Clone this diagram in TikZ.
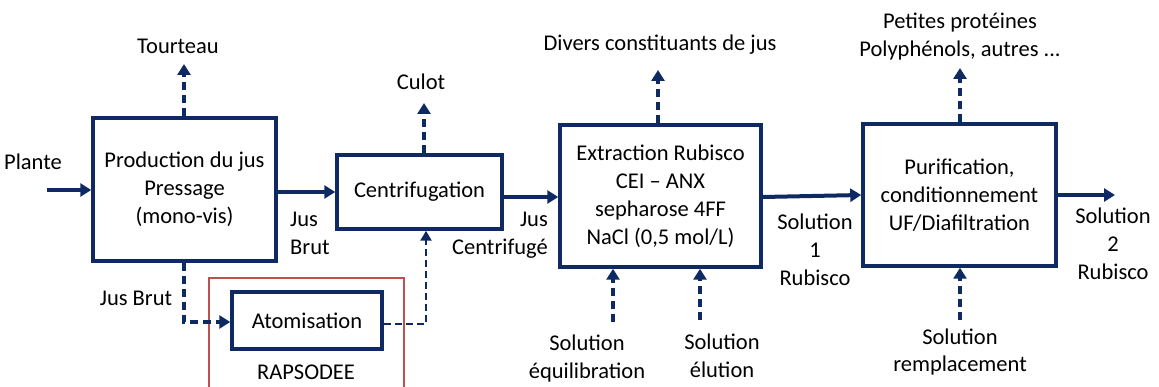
\documentclass[tikz,border=0pt]{standalone}
\usepackage{fontspec}
\setmainfont{Carlito}
\usetikzlibrary{arrows.meta}
\definecolor{navy}{HTML}{0F2A63}
\definecolor{rbox}{HTML}{C0504D}
\begin{document}
\begin{tikzpicture}[x=1pt,y=-1pt,
  box/.style={draw=navy,line width=3.5pt,minimum width=#1,align=center,inner sep=0pt},
  lbl/.style={align=center,inner sep=0pt,font=\fontsize{22.5}{28}\selectfont},
  flow/.style={navy,line width=4pt,-{Triangle[length=11pt,width=13pt]}},
  dflow/.style={navy,line width=3.8pt,dash pattern=on 8pt off 5pt,-{Triangle[length=11pt,width=13pt]}},
  tdflow/.style={navy,line width=2.6pt,dash pattern=on 7pt off 4pt,-{Triangle[length=10pt,width=11pt]}}]
\useasboundingbox (0,0) rectangle (1159,387);
\fill[white] (0,0) rectangle (1159,387);
% red frame
\draw[rbox,line width=1.5pt] (209,392) -- (209,278) -- (404,278) -- (404,392);
% boxes
\node[box=183pt,minimum height=143pt,font=\fontsize{22.5}{28}\selectfont] (prod) at (184.5,189.5) {Production du jus\\Pressage\\(mono-vis)};
\node[box=165pt,minimum height=74pt,font=\fontsize{22.5}{28}\selectfont] (centri) at (419.5,192) {Centrifugation};
\node[box=201pt,minimum height=142pt,font=\fontsize{22.5}{28}\selectfont] (extr) at (660.5,196) {Extraction Rubisco\\CEI -- ANX\\sepharose 4FF\\NaCl (0,5 mol/L)};
\node[box=193pt,minimum height=142pt,font=\fontsize{22.5}{28}\selectfont] (puri) at (959.5,195) {Purification,\\conditionnement\\UF/Diafiltration};
\node[box=150pt,minimum height=57pt,font=\fontsize{22.5}{28}\selectfont] (atom) at (307,320.5) {Atomisation};
% labels
\node[lbl] (plante) at (33,162) {Plante};
\node[lbl] (tourteau) at (178,46) {Tourteau};
\node[lbl] (culot) at (421,82) {Culot};
\node[lbl] (divers) at (660,45) {Divers constituants de jus};
\node[lbl] (petites) at (960,37) {Petites protéines\\Polyphénols, autres ...};
\node[lbl,align=left,anchor=west] (jb1) at (290,233) {Jus\\Brut};
\node[lbl] (jb2) at (136,298) {Jus Brut};
\node[lbl,align=right,anchor=east] (jc) at (548,235) {Jus\\Centrifugé};
\node[lbl] (s1) at (815,250) {Solution\\1\\Rubisco};
\node[lbl] (s2) at (1113,244) {Solution\\2\\Rubisco};
\node[lbl] (sequ) at (587,359) {Solution\\équilibration};
\node[lbl] (selu) at (722,356) {Solution\\élution};
\node[lbl] (srem) at (960,352) {Solution\\remplacement};
\node[lbl] (rap) at (306,372) {RAPSODEE};
% coordinates
\coordinate (pin) at (47,190);
\coordinate (pout) at (1115,195);
\coordinate (tt) at (184,64);
\coordinate (ct) at (424,103);
\coordinate (dt) at (658,70);
\coordinate (pt) at (960,68);
\coordinate (eqb) at (613,322);
\coordinate (elb) at (700,320);
\coordinate (rmb) at (960,320);
% solid flows
\draw[flow] (pin) -- (pin -| prod.west);
\draw[flow] (prod.east |- 0,192) -- (centri.west |- 0,192);
\draw[flow] (centri.east |- 0,197) -- (extr.west |- 0,197);
\draw[flow] (extr.east |- 0,197) -- (puri.west |- 0,195);
\draw[flow] (puri.east |- pout) -- (pout);
% dashed outflows
\draw[dflow] (prod.north -| tt) -- (tt);
\draw[dflow] (centri.north -| ct) -- (ct);
\draw[dflow] (extr.north -| dt) -- (dt);
\draw[dflow] (puri.north -| pt) -- (pt);
% dashed inflows
\draw[dflow] (eqb) -- (extr.south -| eqb);
\draw[dflow] (elb) -- (extr.south -| elb);
\draw[dflow] (rmb) -- (puri.south -| rmb);
% atomisation path
\draw[dflow] (prod.south -| 184,0) -- (184,322) -- (atom.west |- 0,322);
\draw[tdflow] (atom.east |- 0,324) -- (426,324) -- (centri.south -| 426,0);
\end{tikzpicture}
\end{document}
